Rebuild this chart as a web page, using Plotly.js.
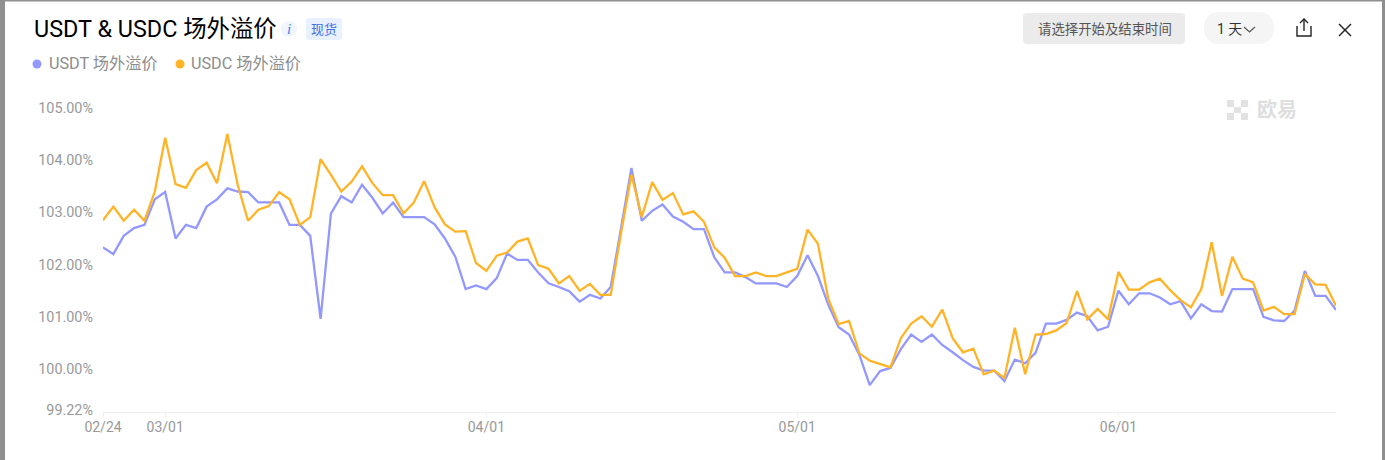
<!DOCTYPE html>
<html>
<head>
<meta charset="utf-8">
<script src="https://cdn.plot.ly/plotly-3.0.1.min.js"></script>
<style>html,body{margin:0;padding:0;background:#fff}#c{width:1385px;height:460px}</style>
</head>
<body>
<div id="c"></div>
<script>
const startDate = '2024-02-24';
const usdtPremium = [102.33,102.20,102.55,102.70,102.76,103.25,103.39,102.50,102.76,102.70,
103.11,103.25,103.46,103.40,103.39,103.19,103.19,103.19,102.76,102.76,
102.55,100.96,102.98,103.31,103.19,103.53,103.28,102.98,103.19,102.91,
102.91,102.91,102.77,102.50,102.15,101.53,101.60,101.53,101.74,102.21,
102.09,102.09,101.85,101.64,101.57,101.49,101.29,101.42,101.35,101.57,
102.70,103.85,102.84,103.03,103.15,102.92,102.82,102.68,102.68,102.14,
101.85,101.85,101.76,101.64,101.64,101.64,101.57,101.78,102.18,101.78,
101.23,100.80,100.66,100.27,99.69,99.96,100.02,100.38,100.66,100.52,
100.66,100.46,100.32,100.17,100.04,99.97,99.97,99.77,100.18,100.11,
100.31,100.87,100.87,100.94,101.08,101.01,100.74,100.81,101.50,101.24,
101.45,101.45,101.37,101.24,101.30,100.97,101.24,101.11,101.10,101.53,
101.53,101.53,101.00,100.93,100.92,101.12,101.88,101.40,101.40,101.13];
const usdcPremium = [102.85,103.11,102.84,103.05,102.84,103.40,104.43,103.54,103.47,103.81,
103.95,103.56,104.50,103.53,102.84,103.05,103.12,103.39,103.25,102.76,
102.91,104.02,103.72,103.40,103.59,103.88,103.56,103.33,103.33,102.98,
103.19,103.60,103.10,102.77,102.63,102.64,102.03,101.88,102.17,102.23,
102.44,102.50,101.99,101.92,101.64,101.78,101.50,101.63,101.42,101.42,
102.61,103.72,102.91,103.58,103.24,103.37,102.96,103.02,102.82,102.33,
102.13,101.78,101.78,101.85,101.78,101.78,101.85,101.92,102.67,102.40,
101.34,100.86,100.92,100.30,100.16,100.10,100.03,100.59,100.87,101.01,
100.81,101.14,100.59,100.32,100.39,99.90,99.97,99.83,100.79,99.90,
100.66,100.67,100.74,100.88,101.49,100.95,101.15,100.95,101.86,101.52,
101.52,101.66,101.73,101.51,101.32,101.18,101.53,102.43,101.40,102.15,
101.73,101.66,101.12,101.19,101.05,101.05,101.82,101.62,101.61,101.21];
const xTickVals = ['2024-02-24','2024-03-01','2024-04-01','2024-05-01','2024-06-01'];
const xTickText = ['02/24','03/01','04/01','05/01','06/01'];
const yTickVals = [99.22,100,101,102,103,104,105];
const yTickText = ['99.22%','100.00%','101.00%','102.00%','103.00%','104.00%','105.00%'];
const seriesNames = ['USDT 场外溢价','USDC 场外溢价'];
const seriesColors = ['#9398ff','#ffb326'];
const chartTitle = 'USDT & USDC 场外溢价';

const dates = usdtPremium.map((_, i) => {
  const d = new Date(startDate + 'T00:00:00Z');
  d.setUTCDate(d.getUTCDate() + i);
  return d.toISOString().slice(0, 10);
});

const W = 1385, H = 460, M = {l: 103, r: 49, t: 100, b: 48};
const fx = p => (p - M.l) / (W - M.l - M.r);
const fy = p => 1 - (p - M.t) / (H - M.t - M.b);
const FONT = 'Roboto, "Noto Sans CJK SC", sans-serif';

function rrect(x0, y0, x1, y1, r, fill) {
  const P = (x, y) => fx(x) + ',' + fy(y);
  return {type: 'path', xref: 'paper', yref: 'paper', layer: 'below', fillcolor: fill, line: {width: 0},
    path: 'M' + P(x0 + r, y0) + ' L' + P(x1 - r, y0) + ' Q' + P(x1, y0) + ' ' + P(x1, y0 + r) +
      ' L' + P(x1, y1 - r) + ' Q' + P(x1, y1) + ' ' + P(x1 - r, y1) +
      ' L' + P(x0 + r, y1) + ' Q' + P(x0, y1) + ' ' + P(x0, y1 - r) +
      ' L' + P(x0, y0 + r) + ' Q' + P(x0, y0) + ' ' + P(x0 + r, y0) + ' Z'};
}
function rect(x0, y0, x1, y1, fill) {
  return {type: 'rect', xref: 'paper', yref: 'paper', layer: 'below', x0: fx(x0), x1: fx(x1), y0: fy(y1), y1: fy(y0), fillcolor: fill, line: {width: 0}};
}
function dot(cx, cy, r, fill) {
  return {type: 'circle', xref: 'paper', yref: 'paper', x0: fx(cx - r), x1: fx(cx + r), y0: fy(cy + r), y1: fy(cy - r), fillcolor: fill, line: {width: 0}};
}
function poly(pts, color, width) {
  return {type: 'path', xref: 'paper', yref: 'paper', line: {color: color, width: width},
    path: pts.map((p, i) => (i ? 'L' : 'M') + fx(p[0]) + ',' + fy(p[1])).join(' ')};
}
function label(text, px, py, size, color, anchor, extra) {
  return Object.assign({text: text, xref: 'paper', yref: 'paper', x: fx(px), y: fy(py), xanchor: anchor || 'left', yanchor: 'middle',
    showarrow: false, borderpad: 0, font: {family: FONT, size: size, color: color}}, extra || {});
}

const shapes = [
  rect(0, 0, 5, 460, '#8f8f8f'), rect(0, 0, 1385, 1.5, '#8f8f8f'), rect(1382, 0, 1385, 460, '#8f8f8f'),
  dot(289, 29, 8, '#f1f5fd'),
  rrect(306, 18, 342, 40, 3, '#e9f0ff'),
  rrect(1023, 13, 1185, 44, 4, '#ebebeb'),
  rrect(1204, 12, 1274, 44, 16, '#f5f5f5'),
  poly([[1244, 27], [1249.5, 32], [1255, 27]], '#555555', 1.2),
  poly([[1297, 26], [1297, 36], [1311, 36], [1311, 26]], '#222222', 1.4),
  poly([[1304, 31], [1304, 19]], '#222222', 1.4),
  poly([[1300, 23], [1304, 19], [1308, 23]], '#222222', 1.4),
  poly([[1339, 24], [1351, 36]], '#222222', 1.4),
  poly([[1351, 24], [1339, 36]], '#222222', 1.4),
  dot(37, 64, 4.5, seriesColors[0]),
  dot(180, 64, 4.5, seriesColors[1]),
  rect(1227, 100, 1234, 107, '#e2e2e2'), rect(1241, 100, 1248, 107, '#e2e2e2'),
  rect(1234, 107, 1241, 113, '#e2e2e2'),
  rect(1227, 113, 1234, 120, '#e2e2e2'), rect(1241, 113, 1248, 120, '#e2e2e2')
];

const annotations = [
  label(chartTitle, 33, 29, 23.4, '#000000'),
  label('<i>i</i>', 289, 29, 12, '#4a7fe8', 'center', {font: {family: '"Liberation Serif", serif', size: 15, color: '#4a7fe8'}}),
  label('现货', 324, 29.5, 13, '#3f6fe6', 'center'),
  label('请选择开始及结束时间', 1104.5, 29.5, 13.4, '#555555', 'center'),
  label('1 天', 1216, 29.5, 14, '#333333'),
  label(seriesNames[0], 48, 64, 16.2, '#8c8c8c'),
  label(seriesNames[1], 190, 64, 16.2, '#8c8c8c'),
  label('欧易', 1256, 110, 20, '#e0e0e0', 'left', {font: {family: FONT, size: 20, color: '#dedede', weight: 700}})
];

const traces = [0, 1].map(k => ({
  type: 'scatter', mode: 'lines', name: seriesNames[k],
  x: dates, y: k === 0 ? usdtPremium : usdcPremium,
  line: {color: seriesColors[k], width: 2.3, shape: 'linear'},
  hoverinfo: 'skip'
}));

Plotly.newPlot('c', traces, {
  width: W, height: H, margin: M, showlegend: false,
  paper_bgcolor: '#ffffff', plot_bgcolor: '#ffffff',
  font: {family: FONT},
  xaxis: {type: 'date', range: ['2024-02-24', '2024-06-22'], tickmode: 'array', tickvals: xTickVals, ticktext: xTickText,
    showgrid: false, zeroline: false, showline: true, linecolor: '#eeeeee', linewidth: 1,
    ticks: 'outside', ticklen: 4, tickcolor: '#eeeeee', ticklabelstandoff: -2, tickfont: {family: FONT, size: 14, color: '#999999'}},
  yaxis: {range: [99.176, 105.153], tickmode: 'array', tickvals: yTickVals, ticktext: yTickText,
    showgrid: false, zeroline: false, showline: false, ticks: '', ticklabelstandoff: 9,
    tickfont: {family: FONT, size: 14.4, color: '#999999'}},
  shapes: shapes, annotations: annotations
}, {displayModeBar: false, staticPlot: true});
</script>
</body>
</html>
